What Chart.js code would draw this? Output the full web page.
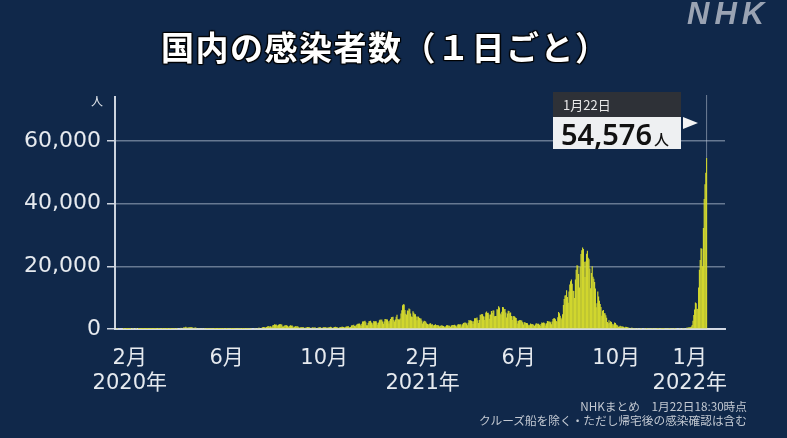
<!DOCTYPE html>
<html lang="ja">
<head>
<meta charset="utf-8">
<script src="https://cdn.jsdelivr.net/npm/chart.js@4"></script>
<style>
  body { margin: 0; background: #10284a; }
  #wrap { position: relative; width: 787px; height: 438px; background: #10284a; overflow: hidden;
          font-family: 'Noto Sans CJK JP', sans-serif; }
  canvas { position: absolute; left: 0; top: 0; }
  #logo { position: absolute; left: 687px; top: -4px; font-family: 'Liberation Sans', sans-serif; font-weight: bold;
          font-style: italic; font-size: 31px; letter-spacing: 5px; color: #9aa3b3; }
  #title { position: absolute; left: 161px; top: 22px; font-size: 33px; font-weight: bold; color: #fff; letter-spacing: 1.5px;
           text-shadow: 0 0 2px #000, 1px 1px 1px #000, -1px -1px 1px #000, 1px -1px 1px #000, -1px 1px 1px #000; }
  #unit { position: absolute; left: 91px; top: 92px; font-size: 12px; color: #e6eaef; }
  #callout { position: absolute; left: 553px; top: 92px; width: 128px; }
  #callout .date { background: rgba(48, 50, 54, 0.95); color: #e8e8e8; font-size: 13px; height: 25px; line-height: 25px; padding-left: 10px; }
  #callout .num { background: #eef0f2; color: #111; height: 32px; line-height: 33px; padding-left: 8px;
                  font-family: 'Noto Sans', sans-serif; font-weight: 600; font-size: 29px; }
  #callout .num span { font-family: 'Noto Sans CJK JP', sans-serif; font-size: 15px; margin-left: 2px; font-weight: 500; }
  #callout .arrow { position: absolute; left: 130px; top: 25px; width: 0; height: 0;
                    border-top: 6px solid transparent; border-bottom: 6px solid transparent; border-left: 15px solid #f4f4f4; }
  #note { position: absolute; right: 40px; top: 399px; text-align: right; font-size: 11.7px; line-height: 14px; color: #c3c9d2; }
</style>
</head>
<body>
<div id="wrap">
  <canvas id="chart" width="787" height="438"></canvas>
  <div id="logo">NHK</div>
  <div id="title">国内の感染者数（１日ごと）</div>
  <div id="unit">人</div>
  <div id="callout"><div class="date" id="calloutDate"></div><div class="num"><span id="calloutNum" style="font-family:'Noto Sans',sans-serif;font-size:29px;margin:0;font-weight:600"></span><span>人</span></div><div class="arrow"></div></div>
  <div id="note">NHKまとめ　1月22日18:30時点<br>クルーズ船を除く・ただし帰宅後の感染確認は含む</div>
</div>
<script>
// 1日ごとの感染者数 2020/1/13(月)から、1行 = 1週間（月〜日）
var startDate = Date.UTC(2020, 0, 13);
var dailyCases = [
  0,0,0,1,0,0,0,
  0,0,0,0,1,1,0,
  1,1,3,3,2,1,3,
  0,0,1,0,0,0,1,
  0,0,1,3,8,5,5,
  6,6,9,11,6,9,12,
  12,10,14,21,18,20,14,
  15,16,33,28,58,47,34,
  26,57,53,47,37,43,60,
  15,44,38,35,57,53,35,
  39,65,93,98,96,112,194,
  87,81,242,206,235,325,383,
  252,351,511,503,579,743,507,
  391,455,549,576,587,570,568,
  350,373,437,447,436,295,202,
  174,177,274,163,263,302,203,
  174,87,123,107,83,100,114,
  48,81,55,99,56,44,14,
  36,31,40,39,26,16,21,
  21,38,40,35,58,51,43,
  35,40,40,49,43,47,38,
  14,35,29,41,45,43,47,
  73,44,40,33,68,57,33,
  48,34,90,94,99,93,107,
  86,117,124,196,250,274,209,
  157,187,207,290,350,386,407,
  264,323,400,586,667,670,508,
  511,630,793,979,767,830,911,
  593,902,1254,1307,1536,1332,1444,
  1228,1048,1339,1489,1605,1445,1415,
  811,826,1044,1181,1195,1205,1030,
  621,910,1071,1179,1035,1078,774,
  512,682,906,858,806,840,598,
  423,441,600,587,529,553,420,
  284,507,495,656,633,647,450,
  270,330,577,490,475,509,470,
  290,264,418,510,580,640,434,
  356,431,541,598,653,557,370,
  383,487,580,633,692,562,385,
  311,532,656,684,635,624,426,
  321,512,626,652,743,732,614,
  475,589,744,768,810,921,612,
  480,618,1082,1173,1170,1321,980,
  890,1279,1542,1664,1704,1723,1437,
  948,1683,2385,2393,2502,2594,2168,
  1224,1221,1948,2505,2512,2664,2070,
  1438,2033,2518,2419,2443,2506,2029,
  1335,2107,2810,3027,2788,3041,2382,
  1638,2378,3178,3181,2996,2993,2501,
  1755,2702,3218,3741,3823,3881,2891,
  2395,3000,3881,4520,3163,3038,3053,
  3310,4916,6001,7570,7882,7790,6100,
  4876,4533,5869,5799,6553,6300,4924,
  3956,3855,5660,5209,4711,4722,3974,
  2764,3962,3932,3538,3342,3336,2673,
  1782,2324,2635,2571,2287,1846,1610,
  1280,1565,1733,1806,1359,1566,1271,
  1038,1311,1526,1309,1081,1239,1080,
  833,1067,1071,1180,1062,988,825,
  671,854,1206,1163,1149,1062,1032,
  663,1119,1265,1312,1291,1317,1114,
  754,1126,1453,1498,1474,1508,1406,
  822,1516,1953,1988,2069,1976,1788,
  1218,2033,2840,2624,2767,2651,2448,
  1575,2479,3449,3447,3440,3697,2783,
  1931,2832,4527,4574,4802,4678,4082,
  2844,3983,5283,5608,5074,5150,4603,
  3299,4594,5775,5090,5906,5918,4062,
  4107,4179,6267,6244,7244,6843,4940,
  4525,5497,7054,6911,6268,6419,5238,
  3679,4963,5813,5707,5033,5236,4128,
  2831,4102,4124,3983,3678,3479,2645,
  1791,2642,2805,2852,2673,2684,2174,
  1432,2144,2152,1915,1940,1860,1387,
  1006,1353,1765,1552,1608,1514,1302,
  938,1416,1806,1682,1705,1690,1387,
  1073,1607,2110,1879,2048,1990,1776,
  1108,1819,2564,2471,2300,2428,2188,
  1476,2385,3210,3446,3420,3098,2591,
  2330,3760,5390,5000,4230,3570,3110,
  4690,7630,9580,10700,10740,12340,10170,
  8390,12000,14210,15260,15750,14470,12170,
  12100,9860,15800,18890,20370,20150,17520,
  13200,19750,23920,25150,25995,25490,21430,
  16600,21570,24000,24970,22750,22230,19300,
  13000,17900,20000,16700,16000,15000,12900,
  6900,8200,12000,10400,9000,8000,7000,
  4200,5800,6100,5000,5000,4400,3600,
  2200,1800,2800,2000,2500,2200,1700,
  1100,1500,2100,1900,1400,1300,1000,
  600,800,1000,900,800,800,700,
  370,600,700,620,520,500,400,
  250,340,400,390,350,320,290,
  170,240,300,280,260,230,160,
  90,170,230,220,180,170,160,
  80,140,190,180,170,140,120,
  80,120,160,150,140,130,110,
  50,90,130,120,110,110,90,
  70,110,130,120,130,140,120,
  80,110,180,170,140,150,130,
  90,150,190,200,210,230,190,
  130,250,270,300,280,290,240,
  210,390,370,490,590,550,530,
  780,1260,2640,4470,6210,8480,8250,
  6420,6380,13244,18860,22045,25742,25630,
  20000,32197,41485,46199,49854,54576
];

var tickDates = ['2020-02-01', '2020-06-01', '2020-10-01', '2021-02-01', '2021-06-01', '2021-10-01', '2022-01-01'];
var tickMonths = ['2月', '6月', '10月', '2月', '6月', '10月', '1月'];
var tickYears = ['2020年', '', '', '2021年', '', '', '2022年'];
var yTicks = [0, 20000, 40000, 60000];

function dayOf(s) {
  return Math.round((Date.parse(s) - startDate) / 86400000);
}
var tickDays = tickDates.map(dayOf);

var lastIdx = dailyCases.length - 1;
var lastDate = new Date(startDate + lastIdx * 86400000);
document.getElementById('calloutDate').textContent = (lastDate.getUTCMonth() + 1) + '月' + lastDate.getUTCDate() + '日';
document.getElementById('calloutNum').textContent = dailyCases[lastIdx].toLocaleString('en-US');

var labelColor = '#e6eaef';
var tickFont = "'DejaVu Sans', 'Noto Sans CJK JP', sans-serif";

// 最新日の縦線
var markerLine = {
  id: 'markerLine',
  afterDatasetsDraw: function(chart) {
    var ctx = chart.ctx;
    var x = chart.scales.x.getPixelForValue(lastIdx);
    var y = chart.scales.y.getPixelForValue(dailyCases[lastIdx]);
    ctx.save();
    ctx.strokeStyle = 'rgba(190, 200, 215, 0.55)';
    ctx.lineWidth = 1;
    ctx.beginPath();
    ctx.moveTo(x, 95);
    ctx.lineTo(x, y);
    ctx.stroke();
    ctx.restore();
  }
};

var ctx = document.getElementById('chart').getContext('2d');
var chart = new Chart(ctx, {
  type: 'bar',
  data: {
    datasets: [{
      data: dailyCases.map(function(v, i) { return { x: i, y: v }; }),
      backgroundColor: '#d6db2e',
      borderWidth: 0,
      barPercentage: 1.4,
      categoryPercentage: 1
    }]
  },
  options: {
    responsive: false,
    animation: false,
    layout: { padding: { left: 0, right: 62, top: 97, bottom: 0 } },
    plugins: { legend: { display: false }, tooltip: { enabled: false } },
    scales: {
      x: {
        type: 'linear',
        offset: false,
        min: 0.5,
        max: 763,
        grid: { display: false, drawTicks: false },
        border: { display: true, color: 'rgba(225, 230, 238, 0.9)', width: 2 },
        afterBuildTicks: function(scale) {
          scale.ticks = tickDays.map(function(d) { return { value: d }; });
        },
        afterFit: function(scale) { scale.height = 109; },
        ticks: {
          autoSkip: false,
          maxRotation: 0,
          padding: 17,
          color: labelColor,
          font: { family: tickFont, size: 21, lineHeight: 1.2 },
          callback: function(value) {
            var i = tickDays.indexOf(value);
            if (i < 0) return '';
            return tickYears[i] ? [tickMonths[i], tickYears[i]] : tickMonths[i];
          }
        }
      },
      y: {
        min: 0,
        max: 74000,
        grid: { color: 'rgba(175, 188, 205, 0.55)', lineWidth: 1.5, tickLength: 8, tickColor: 'rgba(225, 230, 238, 0.9)' },
        border: { display: true, color: 'rgba(225, 230, 238, 0.9)', width: 2 },
        afterBuildTicks: function(scale) {
          scale.ticks = yTicks.map(function(v) { return { value: v }; });
        },
        afterFit: function(scale) { scale.width = 115; },
        ticks: {
          padding: 6,
          color: labelColor,
          font: { family: tickFont, size: 22 },
          callback: function(v) { return v.toLocaleString('en-US'); }
        }
      }
    }
  },
  plugins: [markerLine]
});
</script>
</body>
</html>
